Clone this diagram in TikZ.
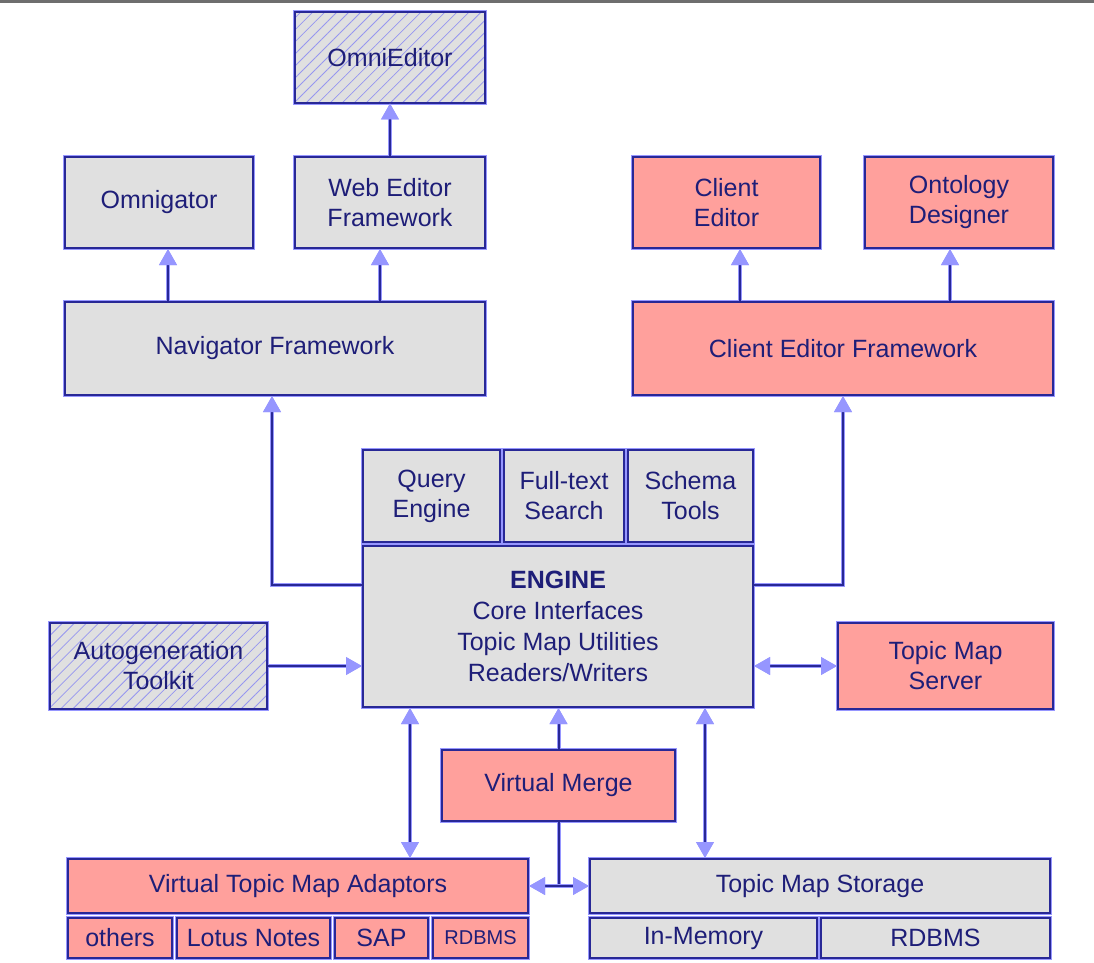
\documentclass[tikz,border=0pt]{standalone}
\usepackage{fontspec}
\setmainfont{Liberation Sans}
\usetikzlibrary{arrows.meta,patterns.meta}

\definecolor{boxline}{RGB}{40,40,150}
\definecolor{halo}{RGB}{150,150,255}
\definecolor{boxgray}{RGB}{224,224,224}
\definecolor{boxpink}{RGB}{255,160,156}
\definecolor{textcol}{RGB}{30,30,120}
\definecolor{tipblue}{RGB}{150,150,255}
\definecolor{hatchcol}{RGB}{150,150,240}
\definecolor{topline}{RGB}{110,110,110}

\tikzset{
  box/.style={draw=boxline, line width=2pt, preaction={draw=halo, line width=4pt},
    text=textcol, align=center, inner sep=0pt, font=\fontsize{25}{30}\selectfont},
  greybox/.style={box, fill=boxgray},
  pinkbox/.style={box, fill=boxpink},
  hatchbox/.style={box, preaction={fill=boxgray},
    pattern={Lines[angle=45,distance=8.5pt,line width=0.8pt]}, pattern color=hatchcol},
  conn/.style={draw=boxline, line width=2pt, preaction={draw=halo, line width=4pt},
    >={Triangle[length=16pt,width=17pt,color=tipblue]}},
}

\begin{document}
\begin{tikzpicture}[x=1pt,y=-1pt]

\useasboundingbox (0,0) rectangle (1094,962);
\draw[topline, line width=3pt] (0,1.5) -- (1094,1.5);

\node[hatchbox, minimum width=190, minimum height=91] (omnied) at (390,57.5) {OmniEditor};
\node[greybox, minimum width=190, minimum height=91] (webed) at (390,202.5) {Web Editor\\Framework};
\node[greybox, minimum width=188, minimum height=91] (omnig) at (159,202.5) {Omnigator};
\node[pinkbox, minimum width=187, minimum height=91] (cliented) at (726.5,202.5) {Client\\Editor};
\node[pinkbox, minimum width=188, minimum height=91] (ontol) at (959,202.5) {Ontology\\Designer};

\node[greybox, minimum width=420, minimum height=93] (navfw) at (275,348.5) {Navigator Framework};
\node[pinkbox, minimum width=420, minimum height=93] (clifw) at (843,348.5) {Client Editor Framework};

\node[greybox, minimum width=137, minimum height=92] (query) at (431.5,496) {Query\\Engine};
\node[greybox, minimum width=120, minimum height=92] (fulltext) at (564,496) {Full-text\\Search};
\node[greybox, minimum width=125, minimum height=92] (schema) at (690.5,496) {Schema\\Tools};
\node[greybox, minimum width=390, minimum height=161, font=\fontsize{25}{31}\selectfont] (engine) at (558,626.5)
  {\textbf{ENGINE}\\Core Interfaces\\Topic Map Utilities\\Readers/Writers};

\node[hatchbox, minimum width=217, minimum height=86] (autogen) at (158.5,666) {Autogeneration\\Toolkit};
\node[pinkbox, minimum width=215, minimum height=86] (tmserver) at (945.5,666) {Topic Map\\Server};
\node[pinkbox, minimum width=233, minimum height=71] (vmerge) at (558.5,785.5) {Virtual Merge};

\node[pinkbox, minimum width=460, minimum height=54] (vtma) at (298,886) {Virtual Topic Map Adaptors};
\node[pinkbox, minimum width=104, minimum height=40] (others) at (120,938) {others};
\node[pinkbox, minimum width=153, minimum height=40] (lotus) at (253.5,938) {Lotus Notes};
\node[pinkbox, minimum width=93, minimum height=40] (sap) at (381.5,938) {SAP};
\node[pinkbox, minimum width=95, minimum height=40, font=\fontsize{20}{24}\selectfont] (rdbmsa) at (480.5,938) {RDBMS};

\node[greybox, minimum width=460, minimum height=54] (tmstore) at (820,886) {Topic Map Storage};
\node[greybox, minimum width=227, minimum height=40] (inmem) at (703.5,938) {In-Memory};
\node[greybox, minimum width=229, minimum height=40] (rdbmss) at (935.5,938) {RDBMS};

\draw[conn,->] (webed.north) -- (omnied.south);
\draw[conn,->] (168,0 |- navfw.north) -- (168,0 |- omnig.south);
\draw[conn,->] (380,0 |- navfw.north) -- (380,0 |- webed.south);
\draw[conn,->] (740,0 |- clifw.north) -- (740,0 |- cliented.south);
\draw[conn,->] (950,0 |- clifw.north) -- (950,0 |- ontol.south);

\draw[conn,->] (engine.west |- 0,585) -| (272,0 |- navfw.south);
\draw[conn,->] (engine.east |- 0,585) -| (843,0 |- clifw.south);
\draw[conn,->] (autogen.east) -- (autogen.east -| engine.west);
\draw[conn,<->] (tmserver.west) -- (tmserver.west -| engine.east);

\draw[conn,<->] (410,0 |- engine.south) -- (410,0 |- vtma.north);
\draw[conn,->] (vmerge.north) -- (vmerge.north |- engine.south);
\draw[conn,<->] (705,0 |- engine.south) -- (705,0 |- tmstore.north);
\draw[conn] (vmerge.south) -- (vmerge.south |- vtma.east);
\draw[conn,<->] (vtma.east) -- (tmstore.west);

\end{tikzpicture}
\end{document}
